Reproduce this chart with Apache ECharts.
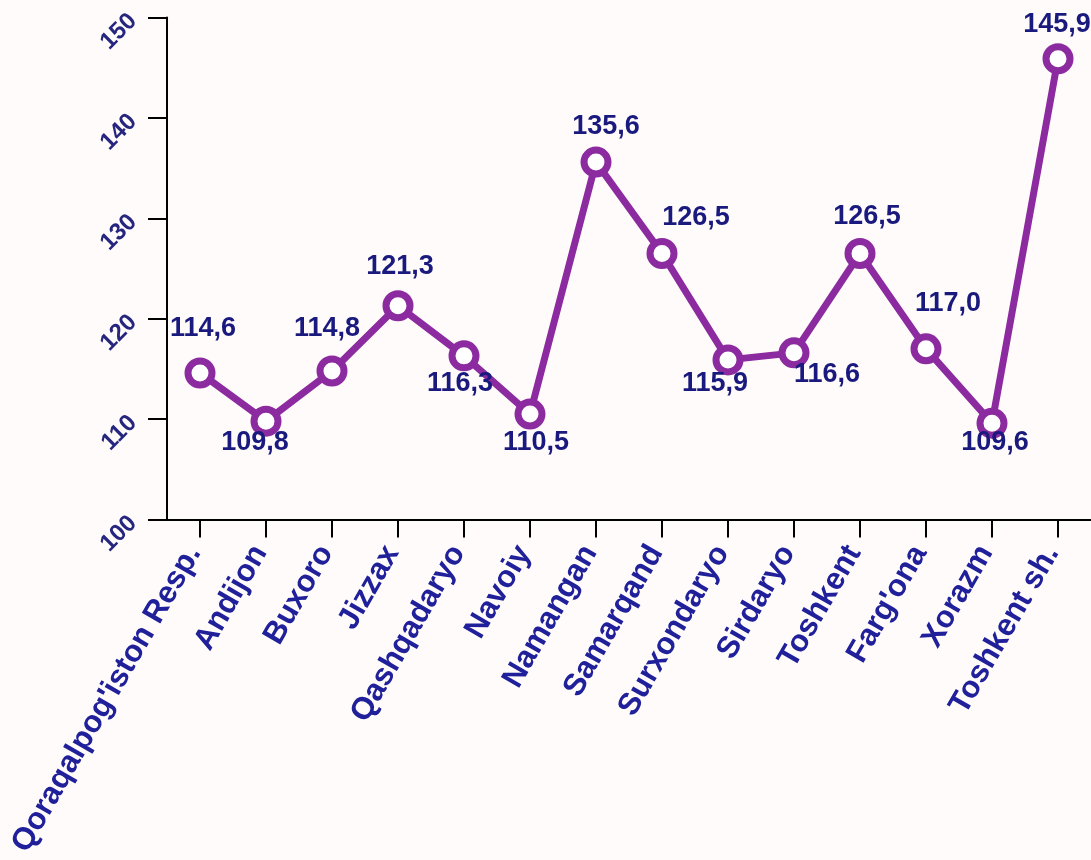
<!DOCTYPE html>
<html>
<head>
<meta charset="utf-8">
<script src="https://cdn.jsdelivr.net/npm/echarts@6/dist/echarts.min.js"></script>
<style>
html,body{margin:0;padding:0;background:#fffbfb;}
#chart{width:1091px;height:860px;}
</style>
</head>
<body>
<div id="chart"></div>
<script>
const categories = ["Qoraqalpog'iston Resp.", "Andijon", "Buxoro", "Jizzax", "Qashqadaryo", "Navoiy", "Namangan", "Samarqand", "Surxondaryo", "Sirdaryo", "Toshkent", "Farg'ona", "Xorazm", "Toshkent sh."];
const values = [114.6, 109.8, 114.8, 121.3, 116.3, 110.5, 135.6, 126.5, 115.9, 116.6, 126.5, 117.0, 109.6, 145.9];
const yMin = 100, yMax = 150, yStep = 10;

// label placement (style only)
const labelOffsets = [[3,-44],[-11,21],[-5,-42],[2,-39],[-4,28],[6,28],[10,-36],[34,-36],[-13,24],[33,22],[7,-37],[22,-45],[3,19],[-1,-34]];

const chart = echarts.init(document.getElementById('chart'));
const seriesData = values.map((v, i) => ({
  value: v,
  label: { offset: labelOffsets[i] }
}));

chart.setOption({
  backgroundColor: '#fffbfb',
  animation: false,
  grid: { left: 167, right: 0, top: 17.5, bottom: 340, containLabel: false },
  xAxis: {
    type: 'category',
    data: categories,
    boundaryGap: true,
    axisLine: { lineStyle: { color: '#000', width: 2 } },
    axisTick: { show: true, alignWithLabel: true, length: 18, lineStyle: { color: '#000', width: 2 } },
    axisLabel: {
      interval: 0, rotate: 60, margin: 18, padding: [0, 12, 0, 0],
      color: '#20209a', fontSize: 31, fontWeight: 'bold', fontFamily: 'Liberation Sans, Arial, sans-serif'
    }
  },
  yAxis: {
    type: 'value',
    min: yMin, max: yMax, interval: yStep,
    splitLine: { show: false },
    axisLine: { show: true, lineStyle: { color: '#000', width: 2 } },
    axisTick: { show: true, length: 19, lineStyle: { color: '#000', width: 2 } },
    axisLabel: {
      rotate: 45, margin: 34,
      color: '#26267f', fontSize: 24, fontWeight: 'bold', fontFamily: 'Liberation Sans, Arial, sans-serif'
    }
  },
  series: [{
    type: 'line',
    data: seriesData,
    symbol: 'circle',
    symbolSize: 24,
    showAllSymbol: true,
    lineStyle: { color: '#8c2aa0', width: 7 },
    itemStyle: { color: '#ffffff', borderColor: '#8c2aa0', borderWidth: 7 },
    label: {
      show: true,
      position: 'inside',
      formatter: p => p.value.toFixed(1).replace('.', ','),
      color: '#1a1a7e', fontSize: 27, fontWeight: 'bold', fontFamily: 'Liberation Sans, Arial, sans-serif'
    },
    z: 3
  }]
});
</script>
</body>
</html>
